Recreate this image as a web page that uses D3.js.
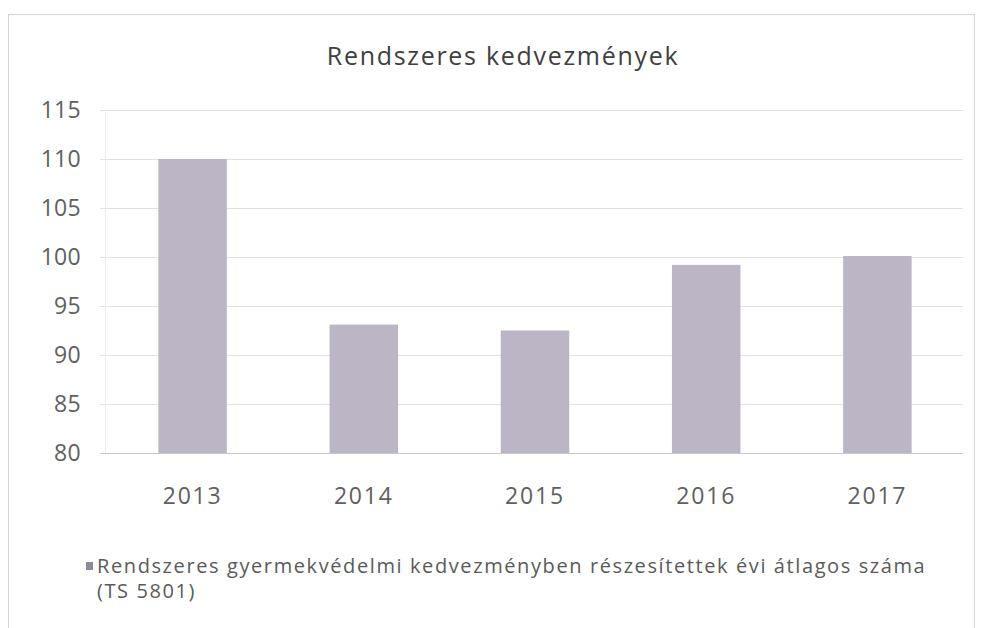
<!DOCTYPE html>
<html>
<head>
<meta charset="utf-8">
<script src="https://cdn.jsdelivr.net/npm/d3@7"></script>
<style>
  body { margin: 0; background: #fff; }
  text { font-family: "Open Sans", "DejaVu Sans", sans-serif; }
</style>
</head>
<body>
<div id="chart"></div>
<script>
var years = ["2013", "2014", "2015", "2016", "2017"];
var values = [110, 93.1, 92.5, 99.2, 100.1];
var yTicks = [80, 85, 90, 95, 100, 105, 110, 115];
var chartTitle = "Rendszeres kedvezmények";
var legendLines = ["Rendszeres gyermekvédelmi kedvezményben részesítettek évi átlagos száma", "(TS 5801)"];

var width = 985, height = 628;
var margin = {top: 110, right: 22, bottom: 175, left: 107};

var data = years.map((y, i) => ({year: y, value: values[i]}));

var svg = d3.select("#chart").append("svg")
    .attr("width", width)
    .attr("height", height);

// outer chart border
svg.append("rect")
    .attr("x", 8.5).attr("y", 14.5)
    .attr("width", 966).attr("height", 640)
    .attr("fill", "none")
    .attr("stroke", "#d4d4d4");

var x = d3.scaleBand()
    .domain(years)
    .range([margin.left, width - margin.right])
    .paddingInner(0.6)
    .paddingOuter(0.3);

var y = d3.scaleLinear()
    .domain([80, 115])
    .range([height - margin.bottom, margin.top]);

// gridlines
svg.append("g")
    .selectAll("line")
    .data(yTicks)
    .join("line")
    .attr("x1", 100)
    .attr("x2", width - margin.right)
    .attr("y1", d => Math.round(y(d)) + 0.5)
    .attr("y2", d => Math.round(y(d)) + 0.5)
    .attr("stroke", d => d === 80 ? "#c8c8c8" : "#e2e2e2");

// faint vertical axis line
svg.append("line")
    .attr("x1", margin.left - 1.5).attr("x2", margin.left - 1.5)
    .attr("y1", y(115)).attr("y2", y(80))
    .attr("stroke", "#ececec");

// y axis
svg.append("g")
    .attr("transform", `translate(81,0)`)
    .call(d3.axisLeft(y).tickValues(yTicks).tickSize(0).tickPadding(0))
    .call(g => g.select(".domain").remove())
    .call(g => g.selectAll("text")
        .attr("font-size", 23)
        .attr("fill", "#606060")
        .attr("letter-spacing", 0.3)
        .style("font-family", "'Open Sans', sans-serif"));

// bars
svg.append("g")
    .selectAll("rect")
    .data(data)
    .join("rect")
    .attr("x", d => x(d.year))
    .attr("width", x.bandwidth())
    .attr("y", d => y(d.value))
    .attr("height", d => y(80) - y(d.value))
    .attr("fill", "#bcb5c5");

// x axis
svg.append("g")
    .attr("transform", `translate(0,${height - margin.bottom})`)
    .call(d3.axisBottom(x).tickSize(0).tickPadding(0))
    .call(g => g.select(".domain").remove())
    .call(g => g.selectAll("text")
        .attr("dy", null)
        .attr("y", 51)
        .attr("font-size", 23)
        .attr("fill", "#606060")
        .attr("letter-spacing", 1.8)
        .style("font-family", "'Open Sans', sans-serif"));

// title
svg.append("text")
    .attr("x", 503)
    .attr("y", 65)
    .attr("text-anchor", "middle")
    .attr("font-size", 25)
    .attr("letter-spacing", 1.7)
    .attr("fill", "#404040")
    .text(chartTitle);

// legend
svg.append("rect")
    .attr("x", 86).attr("y", 562)
    .attr("width", 7).attr("height", 8)
    .attr("fill", "#8f8a98");

svg.append("g")
    .selectAll("text")
    .data(legendLines)
    .join("text")
    .attr("x", 97)
    .attr("y", (d, i) => 573 + i * 25)
    .attr("font-size", 20)
    .attr("letter-spacing", 1.6)
    .attr("fill", "#5a5a5a")
    .text(d => d);
</script>
</body>
</html>
